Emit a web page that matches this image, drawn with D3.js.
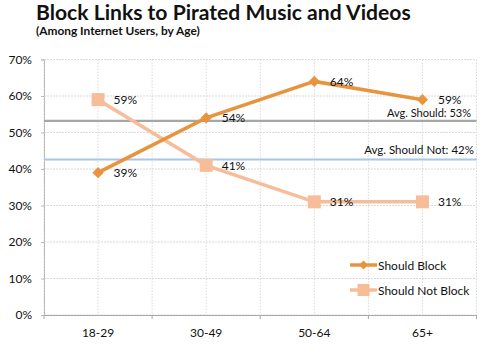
<!DOCTYPE html>
<html><head><meta charset="utf-8">
<script src="https://cdn.jsdelivr.net/npm/d3@7"></script>
<style>body{margin:0;background:#fff}svg{display:block}text{font-family:Lato,"Open Sans",sans-serif;fill:#111}</style>
</head><body><svg id="c" width="496" height="357"></svg>
<script>
const title = "Block Links to Pirated Music and Videos";
const subtitle = "(Among Internet Users, by Age)";
const categories = ["18-29", "30-49", "50-64", "65+"];
const shouldBlock = [39, 54, 64, 59];
const shouldNotBlock = [59, 41, 31, 31];
const seriesNames = ["Should Block", "Should Not Block"];
const yTicks = [0, 10, 20, 30, 40, 50, 60, 70];
const avgShould = 53.2, avgShouldLabel = "Avg. Should: 53%";
const avgShouldNot = 42.6, avgShouldNotLabel = "Avg. Should Not: 42%";

const svg = d3.select("#c");
const L = 44, R = 476.5, T = 59.5, B = 315;
const x = d3.scaleBand().domain(categories).range([L, R]);
const y = d3.scaleLinear().domain([0, 70]).range([B, T]);
const cx = c => x(c) + x.bandwidth() / 2;
const cBlock = "#E8943F", cNot = "#F7BD98";

// title
const t = svg.append("text").attr("x", 36).attr("y", 19.5).attr("font-weight", 700).attr("font-size", 20).text(title);
let w = t.node().getComputedTextLength(); t.attr("font-size", 20 * 375 / w);
const st = svg.append("text").attr("x", 36).attr("y", 35).attr("font-weight", 700).attr("font-size", 11).text(subtitle);
w = st.node().getComputedTextLength(); st.attr("font-size", 11 * 164 / w);

// gridlines
const g = svg.append("g");
g.selectAll(".hg").data(yTicks).join("line").attr("x1", L).attr("x2", R)
  .attr("y1", d => y(d)).attr("y2", d => y(d)).attr("stroke", "#d9d9d9").attr("stroke-width", 1.2).attr("stroke-dasharray", "2,1");
const vx = categories.map(cx).concat(categories.map(c => x(c)), [R]);
g.selectAll(".vg").data(vx).join("line").attr("x1", d => d).attr("x2", d => d)
  .attr("y1", T).attr("y2", B).attr("stroke", "#d9d9d9").attr("stroke-width", 1).attr("stroke-dasharray", "1.5,1.5");

// axes
const ya = svg.append("g").attr("transform", `translate(${L},0)`).call(d3.axisLeft(y).tickValues(yTicks).tickSize(3).tickFormat(d => d + "%"));
ya.select(".domain").attr("stroke", "#bbb");
ya.selectAll(".tick line").attr("stroke", "#bbb");
ya.selectAll("text").attr("font-size", 12).attr("x", -12).attr("fill", "#111");
const xa = svg.append("g").attr("transform", `translate(0,${B})`).call(d3.axisBottom(x).tickSize(0).tickPadding(13));
xa.select(".domain").attr("stroke", "#aaa");
xa.selectAll("text").attr("font-size", 12).attr("fill", "#111");
svg.append("g").selectAll("line").data(categories.map(c => x(c)).concat([R])).join("line")
  .attr("x1", d => d).attr("x2", d => d).attr("y1", B).attr("y2", B + 4).attr("stroke", "#aaa");

// average lines
svg.append("line").attr("x1", L).attr("x2", R).attr("y1", y(avgShould)).attr("y2", y(avgShould)).attr("stroke", "#A6A6A6").attr("stroke-width", 2.2);
svg.append("line").attr("x1", L).attr("x2", R).attr("y1", y(avgShouldNot)).attr("y2", y(avgShouldNot)).attr("stroke", "#A8C6E8").attr("stroke-width", 2);
svg.append("text").attr("x", 471).attr("y", y(avgShould) - 3.5).attr("text-anchor", "end").attr("font-size", 11).text(avgShouldLabel);
svg.append("text").attr("x", 474).attr("y", y(avgShouldNot) - 5.5).attr("text-anchor", "end").attr("font-size", 11.5).text(avgShouldNotLabel);

const line = d3.line().x(d => cx(d.c)).y(d => y(d.v));
const sNot = categories.map((c, i) => ({c, v: shouldNotBlock[i]}));
const sBlock = categories.map((c, i) => ({c, v: shouldBlock[i]}));

function square(sel, s) { sel.attr("x", -s/2).attr("y", -s/2).attr("width", s).attr("height", s).attr("fill", cNot); }

svg.append("path").datum(sNot).attr("d", line).attr("fill", "none").attr("stroke", cNot).attr("stroke-width", 3.5);
svg.append("g").selectAll("rect").data(sNot).join("rect").attr("transform", d => `translate(${cx(d.c)},${y(d.v)})`).call(square, 13);
svg.append("path").datum(sBlock).attr("d", line).attr("fill", "none").attr("stroke", cBlock).attr("stroke-width", 3.5);
svg.append("g").selectAll("path").data(sBlock).join("path")
  .attr("transform", d => `translate(${cx(d.c)},${y(d.v)}) rotate(45)`)
  .attr("d", d3.symbol().type(d3.symbolSquare).size(64)).attr("fill", cBlock);

// data labels
const labels = sNot.concat(sBlock);
svg.append("g").selectAll("text").data(labels).join("text")
  .attr("x", d => cx(d.c) + 15.5).attr("y", d => y(d.v) + 4.5).attr("font-size", 12).text(d => d.v + "%");

// legend
const lg = svg.append("g");
[[seriesNames[0], 265, cBlock, "d"], [seriesNames[1], 290, cNot, "s"]].forEach(([n, yy, col, m]) => {
  lg.append("line").attr("x1", 350).attr("x2", 377).attr("y1", yy).attr("y2", yy).attr("stroke", col).attr("stroke-width", 3.5);
  if (m === "d") lg.append("path").attr("transform", `translate(363.5,${yy}) rotate(45)`).attr("d", d3.symbol().type(d3.symbolSquare).size(40)).attr("fill", col);
  else lg.append("rect").attr("transform", `translate(363.5,${yy})`).call(square, 12);
  lg.append("text").attr("x", 378).attr("y", yy + 4.5).attr("font-size", 12).text(n);
});
</script></body></html>
